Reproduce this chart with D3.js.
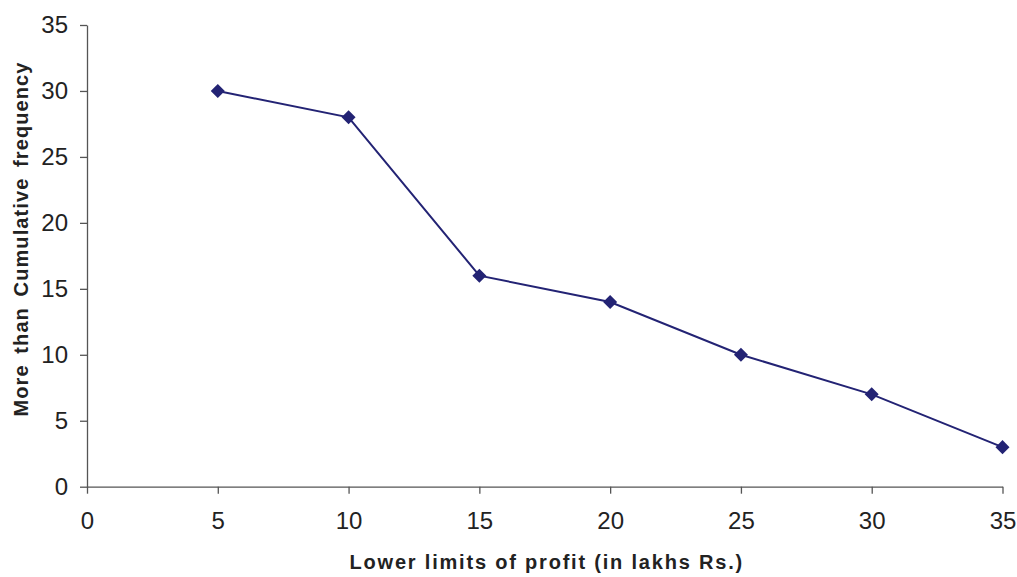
<!DOCTYPE html>
<html>
<head>
<meta charset="utf-8">
<script src="https://cdn.jsdelivr.net/npm/d3@7"></script>
<style>
  body { margin: 0; background: #fff; }
  svg { display: block; font-family: "Liberation Sans", Arial, sans-serif; }
</style>
</head>
<body>
<svg id="chart" width="1017" height="577"></svg>
<script>
// Lower limits of profit classes (lakhs Rs.) and "more than" cumulative frequencies
const lowerLimits = [5, 10, 15, 20, 25, 30, 35];
const cumFreq = [30, 28, 16, 14, 10, 7, 3];
const xTicks = [0, 5, 10, 15, 20, 25, 30, 35];
const yTicks = [0, 5, 10, 15, 20, 25, 30, 35];

const svg = d3.select("#chart");
const margin = { left: 87, right: 14.5, top: 25, bottom: 90.3 };
const W = 1017, H = 577;

const x = d3.scaleLinear().domain([0, 35]).range([margin.left, W - margin.right]);
const y = d3.scaleLinear().domain([0, 35]).range([H - margin.bottom, margin.top]);

const axisColor = "#555";

const xAxis = svg.append("g")
  .attr("transform", `translate(0,${y(0)})`)
  .call(d3.axisBottom(x).tickValues(xTicks).tickSize(7).tickPadding(18.5).tickSizeOuter(0));
const yAxis = svg.append("g")
  .attr("transform", `translate(${x(0)},0)`)
  .call(d3.axisLeft(y).tickValues(yTicks).tickSize(7).tickPadding(12).tickSizeOuter(0));

[xAxis, yAxis].forEach(a => {
  a.selectAll("path, line").attr("stroke", axisColor).attr("stroke-width", 1.3);
  a.selectAll("text").attr("fill", "#222").style("font-size", "24px")
    .style("font-family", "'Liberation Sans', Arial, sans-serif");
});

const lineColor = "#232374";
const pts = lowerLimits.map((v, i) => [v, cumFreq[i]]);

svg.append("path")
  .datum(pts)
  .attr("fill", "none")
  .attr("stroke", lineColor)
  .attr("stroke-width", 2)
  .attr("d", d3.line().x(d => x(d[0])).y(d => y(d[1])));

svg.selectAll(".pt")
  .data(pts)
  .join("path")
  .attr("class", "pt")
  .attr("transform", d => `translate(${x(d[0])},${y(d[1])})`)
  .attr("d", d3.symbol(d3.symbolDiamond2, 125)())
  .attr("fill", lineColor);

// Axis titles
svg.append("text")
  .attr("x", (x(0) + x(35)) / 2 + 2)
  .attr("y", 569)
  .attr("text-anchor", "middle")
  .style("font-size", "20px")
  .style("font-weight", "bold")
  .style("letter-spacing", "1.8px")
  .attr("fill", "#222")
  .text("Lower limits of profit (in lakhs Rs.)");

svg.append("text")
  .attr("transform", `translate(28,239) rotate(-90)`)
  .attr("text-anchor", "middle")
  .style("font-size", "20px")
  .style("font-weight", "bold")
  .style("letter-spacing", "1.1px")
  .style("word-spacing", "4px")
  .attr("fill", "#222")
  .text("More than Cumulative frequency");
</script>
</body>
</html>
